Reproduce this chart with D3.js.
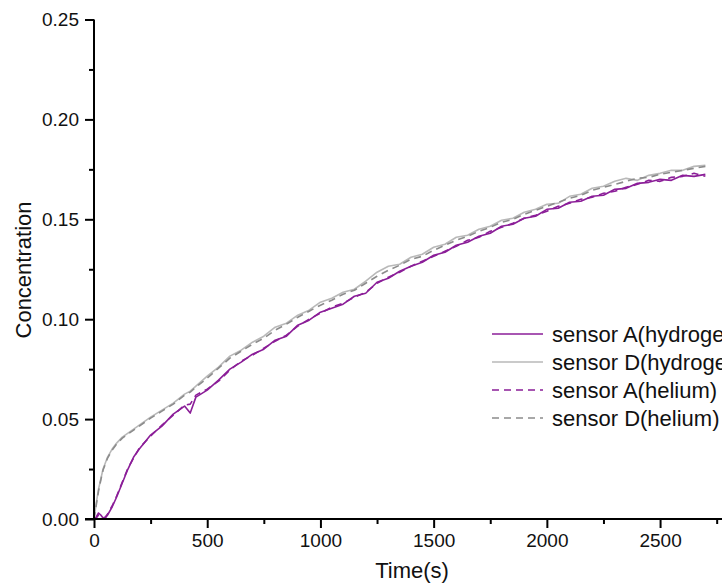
<!DOCTYPE html>
<html>
<head>
<meta charset="utf-8">
<script src="https://cdn.jsdelivr.net/npm/d3@7"></script>
<style>
  body { margin: 0; background: #fff; }
  svg { display: block; font-family: "Liberation Sans", Arial, sans-serif; }
</style>
</head>
<body>
<svg id="chart"></svg>
<script>
// values
var times = [0, 10, 20, 30, 40, 50, 60, 80, 100, 125, 150, 175, 200, 250, 300, 350, 400, 425, 450, 500,
  550, 600, 650, 700, 750, 800, 850, 900, 950, 1000, 1050, 1100, 1150, 1200, 1250, 1300, 1350, 1400,
  1450, 1500, 1550, 1600, 1650, 1700, 1750, 1800, 1850, 1900, 1950, 2000, 2050, 2100, 2150, 2200,
  2250, 2300, 2350, 2400, 2450, 2500, 2550, 2600, 2650, 2700];

var sensorAHydrogen = [0, 0.001, 0.003, 0.002, 0.0005, 0.0005, 0.002, 0.006, 0.011, 0.018, 0.025, 0.031, 0.035, 0.042, 0.0465, 0.0525, 0.0565, 0.053, 0.061, 0.0645,
  0.0695, 0.075, 0.0785, 0.0825, 0.085, 0.0895, 0.0915, 0.097, 0.0995, 0.1035, 0.1055, 0.1075, 0.1115, 0.113, 0.1185, 0.1205, 0.124, 0.1265,
  0.1285, 0.132, 0.1335, 0.137, 0.1385, 0.1415, 0.143, 0.1465, 0.1475, 0.1505, 0.1515, 0.155, 0.1555, 0.1585, 0.159, 0.1615,
  0.162, 0.165, 0.1655, 0.168, 0.1685, 0.17, 0.1695, 0.172, 0.1715, 0.1725];

var sensorDHydrogen = [0, 0.008, 0.015, 0.02, 0.025, 0.028, 0.031, 0.035, 0.038, 0.041, 0.043, 0.045, 0.047, 0.051, 0.0545, 0.058, 0.0625, 0.064, 0.0665, 0.0715,
  0.076, 0.0815, 0.0845, 0.0885, 0.0915, 0.096, 0.098, 0.102, 0.1045, 0.1085, 0.1105, 0.1135, 0.115, 0.119, 0.1235, 0.1265, 0.1275, 0.131,
  0.1325, 0.136, 0.1375, 0.141, 0.142, 0.145, 0.1465, 0.1495, 0.1505, 0.1535, 0.155, 0.1575, 0.158, 0.1615, 0.1625, 0.1655,
  0.1665, 0.169, 0.1705, 0.1695, 0.172, 0.173, 0.1745, 0.1745, 0.1765, 0.177];

var sensorAHelium = [0, 0.0005, 0.002, 0.0015, 0.0005, 0.001, 0.0025, 0.0065, 0.0115, 0.0185, 0.0255, 0.0305, 0.0355, 0.0415, 0.047, 0.052, 0.057, 0.0575, 0.062, 0.065,
  0.069, 0.0745, 0.079, 0.082, 0.0855, 0.089, 0.092, 0.0965, 0.1, 0.103, 0.106, 0.108, 0.111, 0.1135, 0.118, 0.121, 0.1235, 0.1265,
  0.129, 0.1315, 0.134, 0.1365, 0.1395, 0.141, 0.144, 0.146, 0.148, 0.1505, 0.152, 0.154, 0.1565, 0.158, 0.16, 0.161,
  0.163, 0.164, 0.166, 0.1675, 0.1695, 0.169, 0.171, 0.1715, 0.173, 0.1715];

var sensorDHelium = [0, 0.007, 0.014, 0.0195, 0.0245, 0.0275, 0.0305, 0.0345, 0.0375, 0.0405, 0.0425, 0.0445, 0.0465, 0.0505, 0.054, 0.0575, 0.062, 0.0635, 0.066, 0.0705,
  0.0755, 0.0805, 0.084, 0.0875, 0.0905, 0.0945, 0.0975, 0.101, 0.104, 0.107, 0.1095, 0.1125, 0.1145, 0.118, 0.1215, 0.1245, 0.127, 0.13,
  0.1315, 0.1345, 0.137, 0.1395, 0.1415, 0.144, 0.146, 0.1485, 0.15, 0.1525, 0.1545, 0.1565, 0.1585, 0.1605, 0.162, 0.1645,
  0.166, 0.1675, 0.169, 0.1705, 0.171, 0.1725, 0.1735, 0.1745, 0.1755, 0.1765];

var seriesNames = ["sensor A(hydrogen)", "sensor D(hydrogen)", "sensor A(helium)", "sensor D(helium)"];
var seriesValues = [sensorAHydrogen, sensorDHydrogen, sensorAHelium, sensorDHelium];

var xTicks = [0, 500, 1000, 1500, 2000, 2500];
var yTicks = [0, 0.05, 0.10, 0.15, 0.20, 0.25];

var width = 722, height = 588;
var colors = ["#8b1e98", "#b9b9b9", "#8b1e98", "#8c8c8c"];
var dashes = [null, null, "7,5", "7,5"];

var svg = d3.select("#chart")
    .attr("width", width)
    .attr("height", height);

var x = d3.scaleLinear().domain([0, 2800]).range([94, 728]);
var y = d3.scaleLinear().domain([0, 0.25]).range([519, 19.5]);

// minor ticks first, then major axes on top
var xMinor = d3.range(250, 2800, 500);
var yMinor = d3.range(0.025, 0.25, 0.05);

svg.append("g")
    .attr("transform", "translate(0," + y(0) + ")")
    .call(d3.axisBottom(x).tickValues(xMinor).tickSize(5).tickFormat(""))
    .call(function(g) { g.select(".domain").remove(); })
    .selectAll("line").attr("stroke-width", 2);

svg.append("g")
    .attr("transform", "translate(" + x(0) + ",0)")
    .call(d3.axisLeft(y).tickValues(yMinor).tickSize(5).tickFormat(""))
    .call(function(g) { g.select(".domain").remove(); })
    .selectAll("line").attr("stroke-width", 2);

var lineGen = d3.line()
    .x(function(d) { return x(d[0]); })
    .y(function(d) { return y(d[1]); });

seriesValues.forEach(function(vals, i) {
    var pts = times.map(function(t, j) { return [t, vals[j]]; });
    svg.append("path")
        .datum(pts)
        .attr("d", lineGen)
        .attr("fill", "none")
        .attr("stroke", colors[i])
        .attr("stroke-width", 1.6)
        .attr("stroke-dasharray", dashes[i])
        .attr("stroke-linejoin", "round");
});

var xAxis = svg.append("g")
    .attr("transform", "translate(0," + y(0) + ")")
    .call(d3.axisBottom(x).tickValues(xTicks).tickSize(9).tickPadding(6).tickSizeOuter(0).tickFormat(d3.format("d")));
xAxis.select(".domain").attr("stroke-width", 2).attr("d", "M85,0H730");
xAxis.selectAll("line").attr("stroke-width", 2);
xAxis.selectAll("text").attr("font-size", 19).attr("fill", "#111").attr("font-family", "Liberation Sans, Arial, sans-serif");

var yAxis = svg.append("g")
    .attr("transform", "translate(" + x(0) + ",0)")
    .call(d3.axisLeft(y).tickValues(yTicks).tickSize(9).tickPadding(6).tickSizeOuter(0).tickFormat(d3.format(".2f")));
yAxis.select(".domain").attr("stroke-width", 2).attr("d", "M0,19.5V520");
yAxis.selectAll("line").attr("stroke-width", 2);
yAxis.selectAll("text").attr("font-size", 19).attr("fill", "#111").attr("font-family", "Liberation Sans, Arial, sans-serif");

svg.append("text")
    .attr("x", 412)
    .attr("y", 578)
    .attr("text-anchor", "middle")
    .attr("font-size", 22)
    .attr("fill", "#111")
    .text("Time(s)");

svg.append("text")
    .attr("transform", "translate(31,270) rotate(-90)")
    .attr("text-anchor", "middle")
    .attr("font-size", 22)
    .attr("fill", "#111")
    .text("Concentration");

// legend (runs past the right edge, as in the source figure)
var legend = svg.append("g");
seriesNames.forEach(function(name, i) {
    var cy = 334 + i * 28;
    legend.append("line")
        .attr("x1", 492).attr("x2", 543)
        .attr("y1", cy).attr("y2", cy)
        .attr("stroke", colors[i])
        .attr("stroke-width", 1.6)
        .attr("stroke-dasharray", dashes[i]);
    legend.append("text")
        .attr("x", 552)
        .attr("y", cy + 8)
        .attr("font-size", 22)
        .attr("fill", "#111")
        .text(name);
});
</script>
</body>
</html>
